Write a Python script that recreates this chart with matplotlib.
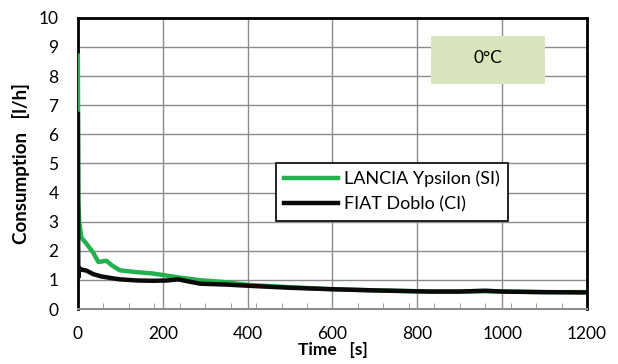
import matplotlib.pyplot as plt
from matplotlib.ticker import MultipleLocator

plt.rcParams['font.family'] = ['Lato', 'DejaVu Sans']

# LANCIA Ypsilon (SI) - time [s] and consumption [l/h]
t_lancia = [0, 1, 3, 8, 20, 36, 48, 55, 67, 80, 99, 130, 177, 240, 288, 350,
            400, 500, 600, 700, 830, 900, 960, 1000, 1100, 1200]
c_lancia = [8.7, 3.67, 3.0, 2.46, 2.25, 1.94, 1.62, 1.63, 1.66, 1.5, 1.33, 1.28,
            1.22, 1.08, 0.99, 0.92, 0.83, 0.75, 0.68, 0.64, 0.60, 0.60, 0.61,
            0.60, 0.58, 0.58]

# FIAT Doblo (CI)
t_fiat = [0, 1, 3, 10, 20, 36, 55, 80, 99, 140, 177, 210, 236, 260, 288, 350,
          400, 500, 600, 700, 830, 900, 960, 1000, 1100, 1200]
c_fiat = [6.7, 1.08, 1.40, 1.35, 1.32, 1.20, 1.12, 1.06, 1.02, 0.98, 0.97, 0.98,
          1.02, 0.95, 0.87, 0.84, 0.80, 0.73, 0.68, 0.64, 0.60, 0.60, 0.63,
          0.60, 0.58, 0.57]

fig = plt.figure(figsize=(6.18, 3.64), dpi=100)
ax = fig.add_axes([0.126, 0.151, 0.824, 0.80])

ax.plot(t_lancia, c_lancia, color='#22b14c', lw=3.2, label='LANCIA Ypsilon (SI)', zorder=3)
ax.plot(t_fiat, c_fiat, color='#0a0a0a', lw=3.2, label='FIAT Doblo (CI)', zorder=4)

ax.set_xlim(0, 1200)
ax.set_ylim(0, 10)
ax.xaxis.set_major_locator(MultipleLocator(200))
ax.xaxis.set_minor_locator(MultipleLocator(60))
ax.yaxis.set_major_locator(MultipleLocator(1))
ax.grid(True, which='major', color='#8c8c8c', lw=1)
ax.set_axisbelow(True)

ax.tick_params(axis='both', which='major', length=0, labelsize=12.5)
ax.tick_params(axis='x', which='major', pad=12)
ax.tick_params(axis='y', which='major', pad=14)
ax.tick_params(axis='x', which='minor', direction='in', length=4, color='#8c8c8c', bottom=True)

for s in ['top', 'left', 'right']:
    ax.spines[s].set_color('black')
    ax.spines[s].set_linewidth(2)
ax.spines['bottom'].set_color('#8c8c8c')
ax.spines['bottom'].set_linewidth(1.5)

ax.set_xlabel('Time   [s]', fontsize=12.5, fontweight='bold', labelpad=0.5)
ax.set_ylabel('Consumption   [l/h]', fontsize=13.5, fontweight='bold', labelpad=6)

leg = ax.legend(loc='upper left', bbox_to_anchor=(0.389, 0.503), fontsize=13,
                frameon=True, fancybox=False, handlelength=3.0, borderpad=0.45,
                labelspacing=0.5, handletextpad=0.3, borderaxespad=0)
leg.get_frame().set_edgecolor('black')
leg.get_frame().set_linewidth(1.2)
leg.get_frame().set_alpha(1)

# label box for the temperature
ax.add_patch(plt.Rectangle((0.694, 0.772), 0.223, 0.167, transform=ax.transAxes,
                           facecolor='#d8e4bc', edgecolor='none', zorder=4))
ax.text(0.805, 0.862, '0°C', transform=ax.transAxes, fontsize=12.5,
        ha='center', va='center', zorder=5)

fig.savefig('out.png', dpi=100)
